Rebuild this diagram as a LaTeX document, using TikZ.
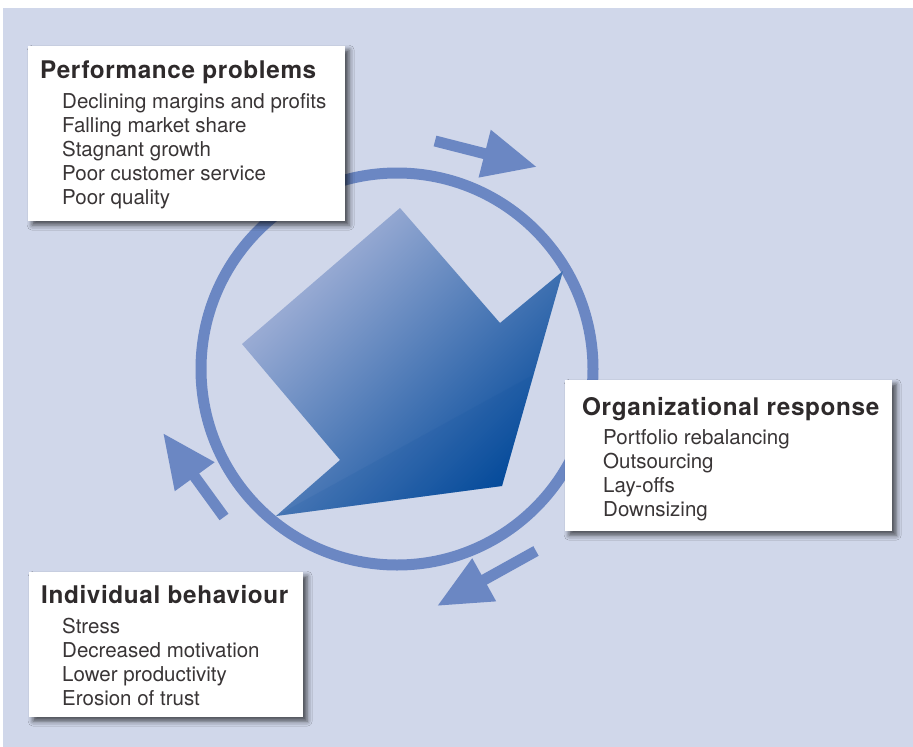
\documentclass[tikz,border=0pt]{standalone}
\usepackage{fontspec}
\setmainfont{TeX Gyre Heros}
\newfontfamily\titlefont[LetterSpace=2.6]{TeX Gyre Heros}
\usetikzlibrary{arrows.meta,shadows.blur}
\definecolor{bg}{HTML}{D0D7EA}
\definecolor{ring}{HTML}{6B87C3}
\definecolor{txt}{HTML}{231F20}
\definecolor{light}{HTML}{AAB6DA}
\definecolor{dark}{HTML}{054B9B}
\begin{document}
\begin{tikzpicture}[x=1pt,y=-1pt,
  box/.style={fill=white, inner sep=0pt, anchor=north west,
    blur shadow={shadow xshift=4pt, shadow yshift=-4pt, shadow blur radius=5pt, shadow opacity=65}},
  ttl/.style={anchor=base west, inner sep=0pt, font=\titlefont\bfseries\fontsize{24.3}{28}\selectfont, text=txt!95},
  itm/.style={anchor=base west, inner sep=0pt, font=\fontsize{20.5}{24}\selectfont, text=txt!90},
  flow/.style={ring, line width=11pt, -{Triangle[length=54pt,width=46pt]}}
]
\useasboundingbox (0,0) rectangle (913,747);
\fill[bg] (3,8) rectangle (913,747);
% ring
\node[circle, draw=ring, line width=11pt, minimum size=392pt, inner sep=0pt] (ring) at (397,369) {};
% small arrows
\coordinate (a1s) at (435,141); \coordinate (a1e) at (537,167);
\coordinate (a2s) at (536,551); \coordinate (a2e) at (437,606);
\coordinate (a3s) at (224,517); \coordinate (a3e) at (163,433);
\draw[flow] (a1s) -- (a1e);
\draw[flow] (a2s) -- (a2e);
\draw[flow] (a3s) -- (a3e);
% big arrow
\shade[top color=light, bottom color=dark, shading angle=45]
  (400,208) -- (500,323) -- (563,271) -- (502,486) -- (276,516) -- (340,460) -- (242,344) -- cycle;
\shade[top color=dark!60!light, bottom color=dark, shading angle=45, opacity=0.3]
  (276,516) -- (533,375) -- (502,486) -- cycle;
% boxes
\node[box, minimum width=317pt, minimum height=175pt] (pp) at (28,46) {};
\node[box, minimum width=327pt, minimum height=151pt] (or) at (565,380) {};
\node[box, minimum width=274pt, minimum height=145pt] (ib) at (29,572) {};
% texts box 1
\node[ttl] (pp0) at (40,78) {Performance problems};
\node[itm] (pp1) at (62,108) {Declining margins and profits};
\node[itm] (pp2) at (62,132) {Falling market share};
\node[itm] (pp3) at (62,156) {Stagnant growth};
\node[itm] (pp4) at (62,180) {Poor customer service};
\node[itm] (pp5) at (62,204) {Poor quality};
% texts box 2
\node[ttl] (or0) at (582,415) {Organizational response};
\node[itm] (or1) at (603,444) {Portfolio rebalancing};
\node[itm] (or2) at (603,468) {Outsourcing};
\node[itm] (or3) at (603,492) {Lay-offs};
\node[itm] (or4) at (603,516) {Downsizing};
% texts box 3
\node[ttl] (ib0) at (41,603) {Individual behaviour};
\node[itm] (ib1) at (62,633) {Stress};
\node[itm] (ib2) at (62,657) {Decreased motivation};
\node[itm] (ib3) at (62,681) {Lower productivity};
\node[itm] (ib4) at (62,705) {Erosion of trust};
\end{tikzpicture}
\end{document}
